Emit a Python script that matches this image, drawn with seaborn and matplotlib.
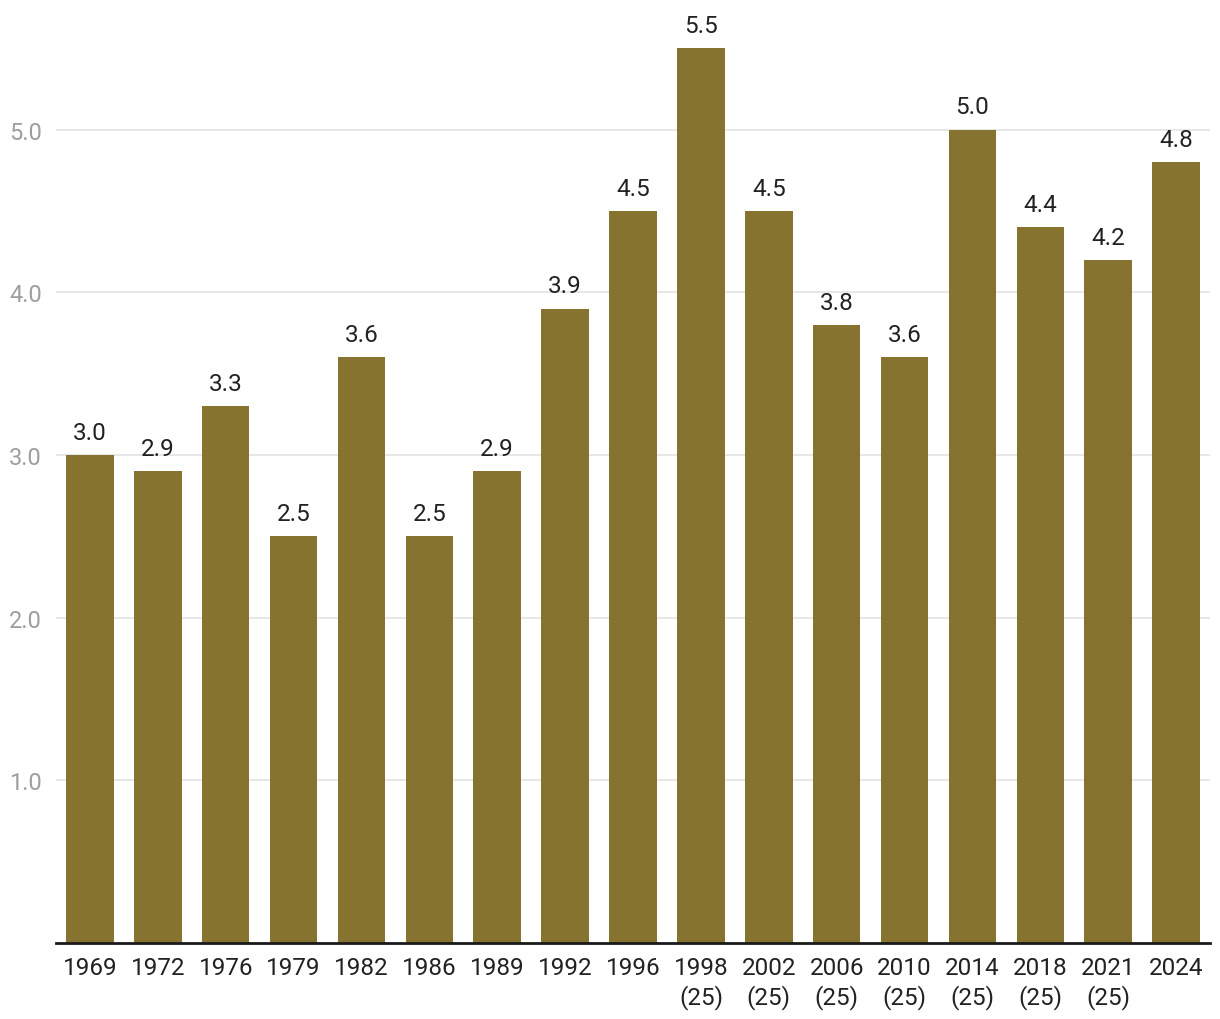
import pandas as pd
import matplotlib.pyplot as plt
import seaborn as sns

years = ["1969", "1972", "1976", "1979", "1982", "1986", "1989", "1992", "1996",
         "1998\n(25)", "2002\n(25)", "2006\n(25)", "2010\n(25)", "2014\n(25)",
         "2018\n(25)", "2021\n(25)", "2024"]
values = [3.0, 2.9, 3.3, 2.5, 3.6, 2.5, 2.9, 3.9, 4.5, 5.5, 4.5, 3.8, 3.6, 5.0, 4.4, 4.2, 4.8]
yticks = [1.0, 2.0, 3.0, 4.0, 5.0]

sns.set_style("white")
plt.rcParams['font.family'] = ['Roboto', 'DejaVu Sans']

df = pd.DataFrame({"year": years, "value": values})

fig = plt.figure(figsize=(12.2, 10.2), dpi=100)
ax = fig.add_axes([0.0459, 0.0745, 0.9459, 0.9155])

sns.barplot(data=df, x="year", y="value", color="#86732f", saturation=1,
            width=0.7, linewidth=0, ax=ax)

# value labels on top of bars
for bar, v in zip(ax.patches, values):
    ax.annotate(f"{v:.1f}", (bar.get_x() + bar.get_width() / 2, bar.get_height()),
                xytext=(0, 8), textcoords="offset points",
                ha="center", va="bottom", fontsize=17.5, color="#222222")

ax.set_ylim(0, 5.74)
ax.set_xlim(-0.5, len(years) - 0.5)
ax.set_yticks(yticks)
ax.set_yticklabels([f"{t:.1f}" for t in yticks])
ax.grid(axis="y", color="#e3e3e3", linewidth=1.2)
ax.set_axisbelow(True)

for s in ["top", "right", "left"]:
    ax.spines[s].set_visible(False)
ax.spines["bottom"].set_color("#1a1a1a")
ax.spines["bottom"].set_linewidth(2)

ax.tick_params(axis="y", length=0, labelsize=17, labelcolor="#9e9e9e", pad=10)
ax.tick_params(axis="x", length=0, labelsize=17.5, labelcolor="#222222", pad=9)
for lbl in ax.get_xticklabels():
    lbl.set_linespacing(1.3)
ax.set_xlabel("")
ax.set_ylabel("")

plt.savefig("out.png", dpi=100)
plt.close()
